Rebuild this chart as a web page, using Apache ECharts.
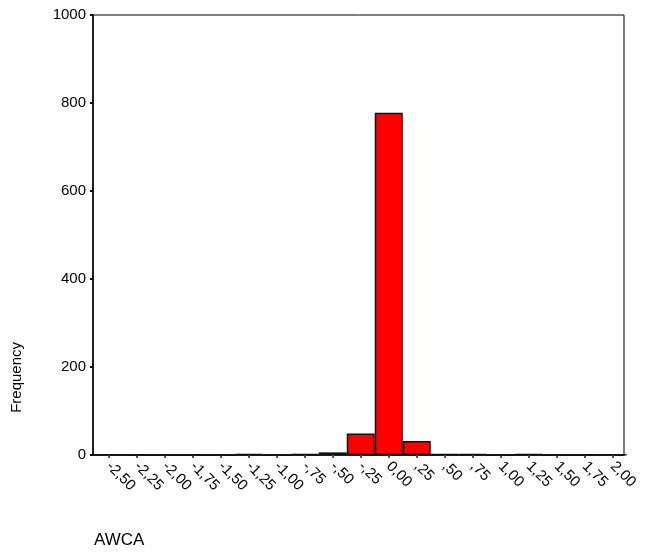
<!DOCTYPE html>
<html>
<head>
<meta charset="UTF-8">
<title>AWCA</title>
<style>
  html, body { margin: 0; padding: 0; background: #fff; }
  #main { width: 648px; height: 557px; }
</style>
</head>
<body>
<div id="main"></div>
<script src="https://cdn.jsdelivr.net/npm/echarts@6/dist/echarts.min.js"></script>
<script>
// bin centres (AWCA) and frequencies
var binCenters = [-2.5, -2.25, -2.0, -1.75, -1.5, -1.25, -1.0, -0.75, -0.5, -0.25,
                  0.0, 0.25, 0.5, 0.75, 1.0, 1.25, 1.5, 1.75, 2.0];
var frequency = [1, 0, 0, 0, 0, 2, 0, 2, 6, 49,
                 778, 32, 2, 2, 0, 2, 0, 0, 1];

var chart = echarts.init(document.getElementById('main'));

function fmt(v) {
  // SPSS style: comma decimal, no leading zero below 1
  var s = Math.abs(v).toFixed(2).replace('.', ',');
  if (Math.abs(v) < 1 && v !== 0) s = s.substring(1);
  return (v < 0 ? '-' : '') + s;
}

var font = 'Liberation Sans, Arial, sans-serif';

chart.setOption({
  animation: false,
  textStyle: { fontFamily: font, color: '#000' },
  grid: {
    left: 93, right: 24, top: 15, bottom: 102,
    show: true, borderColor: '#000', borderWidth: 1, backgroundColor: '#fff'
  },
  xAxis: {
    type: 'value',
    min: -2.64,
    max: 2.1,
    axisLine: { show: true, onZero: false, lineStyle: { color: '#000', width: 1.5 } },
    axisTick: {
      show: true, length: 3, customValues: binCenters,
      lineStyle: { color: '#555', width: 2 }
    },
    axisLabel: {
      customValues: binCenters,
      rotate: -45,
      margin: 9,
      fontSize: 15,
      color: '#000',
      fontFamily: font,
      formatter: function (v) { return fmt(v); }
    },
    splitLine: { show: false }
  },
  yAxis: {
    type: 'value',
    min: 0,
    max: 1000,
    interval: 200,
    axisLine: { show: true, onZero: false, lineStyle: { color: '#000', width: 1.5 } },
    axisTick: { show: true, length: 3, lineStyle: { color: '#000', width: 2 } },
    axisLabel: {
      fontSize: 15, color: '#000', fontFamily: font, margin: 7,
      formatter: function (v) { return String(v); }
    },
    splitLine: { show: false }
  },
  series: [{
    type: 'bar',
    barWidth: 28,
    data: binCenters.map(function (c, i) { return [c, frequency[i]]; }),
    itemStyle: { color: '#ff0000', borderColor: '#111', borderWidth: 1.5 }
  }],
  graphic: [
    {
      type: 'text',
      left: 9,
      top: 342,
      rotation: Math.PI / 2,
      style: { text: 'Frequency', fontSize: 15, fontFamily: font, fill: '#000' }
    },
    {
      type: 'text',
      left: 94,
      top: 532,
      style: { text: 'AWCA', fontSize: 17, fontFamily: font, fill: '#000' }
    }
  ]
});
</script>
</body>
</html>
